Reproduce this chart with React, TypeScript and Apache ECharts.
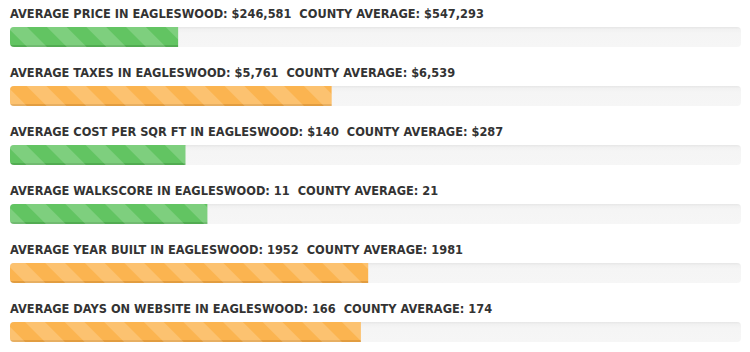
import React, { useEffect, useRef } from "react";
import * as echarts from "echarts";

const metricNames = ["PRICE", "TAXES", "COST PER SQR FT", "WALKSCORE", "YEAR BUILT", "DAYS ON WEBSITE"];
const localValues = [246581, 5761, 140, 11, 1952, 166];
const countyValues = [547293, 6539, 287, 21, 1981, 174];
const valuePrefix = ["$", "$", "$", "", "", ""];
const useSeparator = [true, true, true, false, false, false];
const barPercent = [23, 44, 24, 27, 49, 48];
const barKind = ["green", "orange", "green", "green", "orange", "orange"];
const town = "EAGLESWOOD";

const palette: Record<string, { base: string; edge: string }> = {
  green: { base: "#62c462", edge: "#52ac52" },
  orange: { base: "#fbb450", edge: "#e29d40" },
};

function fmt(v: number, i: number) {
  const s = useSeparator[i] ? v.toLocaleString("en-US") : String(v);
  return valuePrefix[i] + s;
}

export default function App() {
  const ref = useRef<HTMLDivElement>(null);
  useEffect(() => {
    document.body.style.margin = "0";
    const chart = echarts.init(ref.current!, undefined, { renderer: "svg" });
    const rowGap = 59;
    const grids: any[] = [];
    const xAxes: any[] = [];
    const yAxes: any[] = [];
    const series: any[] = [];
    const titles: any[] = [];
    metricNames.forEach((name, i) => {
      grids.push({ left: 10, right: 9, top: 27 + rowGap * i, height: 20 });
      xAxes.push({ type: "value", gridIndex: i, min: 0, max: 100, show: false });
      yAxes.push({ type: "category", gridIndex: i, data: [name], show: false });
      const c = palette[barKind[i]];
      series.push({
        type: "bar",
        xAxisIndex: i,
        yAxisIndex: i,
        data: [barPercent[i]],
        barWidth: 20,
        showBackground: true,
        backgroundStyle: {
          color: {
            type: "linear", x: 0, y: 0, x2: 0, y2: 1,
            colorStops: [
              { offset: 0, color: "#e6e6e6" },
              { offset: 0.12, color: "#f1f1f1" },
              { offset: 0.3, color: "#f5f5f5" },
              { offset: 1, color: "#f6f6f6" },
            ],
          },
          borderRadius: 4,
        },
        itemStyle: {
          color: {
            type: "linear", x: 0, y: 0, x2: 0, y2: 1,
            colorStops: [
              { offset: 0, color: c.base },
              { offset: 0.9, color: c.base },
              { offset: 0.92, color: c.edge },
              { offset: 1, color: c.edge },
            ],
          },
          borderRadius: [4, 0, 0, 4],
          decal: {
            symbol: "rect",
            symbolSize: 1,
            color: "rgba(255,255,255,0.18)",
            dashArrayX: [1, 0],
            dashArrayY: [14, 14],
            rotation: Math.PI / 4,
          },
        },
        silent: true,
      });
      titles.push({
        left: 10,
        top: 8 + rowGap * i,
        text: `AVERAGE ${name} IN ${town}: ${fmt(localValues[i], i)}  COUNTY AVERAGE: ${fmt(countyValues[i], i)}`,
        textStyle: { fontFamily: "DejaVu Sans", fontWeight: "bold", fontSize: 11.4, color: "#333333" },
        padding: 0,
      });
    });
    chart.setOption({
      animation: false,
      title: titles,
      grid: grids,
      xAxis: xAxes,
      yAxis: yAxes,
      series,
    });
    return () => chart.dispose();
  }, []);
  return <div ref={ref} style={{ width: 750, height: 352, background: "#fff" }} />;
}
